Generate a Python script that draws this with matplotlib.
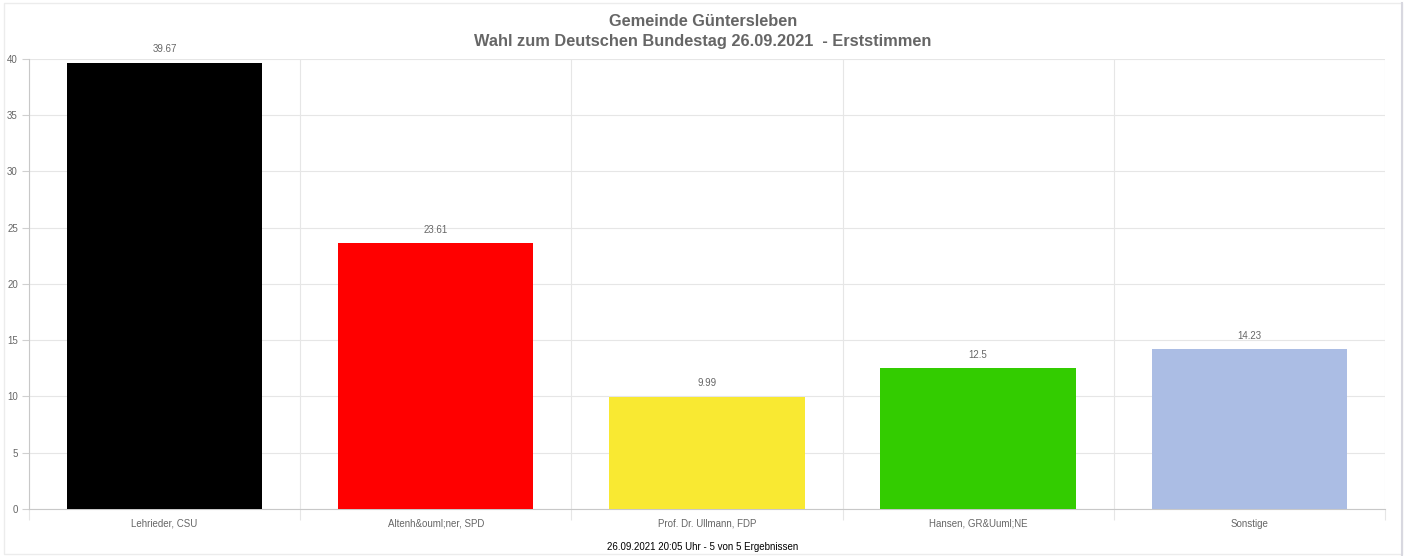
import numpy as np
import matplotlib.pyplot as plt
from matplotlib.patches import Rectangle

plt.rcParams['font.family'] = ['Liberation Sans', 'DejaVu Sans']

categories = ['Lehrieder, CSU', 'Altenh&ouml;ner, SPD', 'Prof. Dr. Ullmann, FDP',
              'Hansen, GR&Uuml;NE', 'Sonstige']
values = [39.67, 23.61, 9.99, 12.5, 14.23]
labels = ['39.67', '23.61', '9.99', '12.5', '14.23']
colors = ['#000000', '#ff0000', '#f9e932', '#33cc00', '#abbde4']

fig = plt.figure(figsize=(14.06, 5.56), dpi=100)
ax = fig.add_axes([0.0206, 0.0845, 0.9644, 0.8095])

x = np.arange(len(categories))
ax.bar(x, values, width=0.72, color=colors, zorder=3)

for xi, v, lab in zip(x, values, labels):
    ax.annotate(lab, (xi, v), xytext=(0, 6), textcoords='offset points',
                ha='center', va='bottom', fontsize=7, color='#666666')

ax.set_xlim(-0.5, len(categories) - 0.5)
ax.set_ylim(0, 40)
ax.set_yticks(np.arange(0, 41, 5))
ax.set_xticks(x)
ax.set_xticklabels(categories)
ax.set_xticks(np.arange(-0.5, len(categories)), minor=True)

ax.grid(axis='y', color='#e6e6e6', lw=0.8, zorder=0)
ax.grid(axis='x', which='minor', color='#e6e6e6', lw=0.8, zorder=0)
ax.tick_params(axis='x', which='major', length=0, labelsize=7, labelcolor='#666666', pad=7)
ax.tick_params(axis='x', which='minor', length=8, color='#e6e6e6', width=0.8)
ax.tick_params(axis='y', length=5, color='#d0d0d0', labelsize=7, labelcolor='#666666', pad=3)

for s in ['top', 'right']:
    ax.spines[s].set_visible(False)
ax.spines['left'].set_color('#c8c8c8')
ax.spines['bottom'].set_color('#c8c8c8')
ax.spines['left'].set_linewidth(0.8)
ax.spines['bottom'].set_linewidth(0.8)

fig.text(0.5, 0.962, 'Gemeinde Güntersleben', ha='center', va='center',
         fontsize=11.8, fontweight='bold', color='#666666')
fig.text(0.5, 0.926, 'Wahl zum Deutschen Bundestag 26.09.2021  - Erststimmen',
         ha='center', va='center', fontsize=11.8, fontweight='bold', color='#666666')
fig.text(0.5, 0.016, '26.09.2021 20:05 Uhr - 5 von 5 Ergebnissen', ha='center',
         va='center', fontsize=7, color='#000000')

# outer frame
fig.patches.append(Rectangle((0.003, 0.003), 0.994, 0.991, transform=fig.transFigure,
                             fill=False, edgecolor='#ececec', lw=1))
fig.add_artist(plt.Line2D([0.997, 0.997], [0.0, 0.994], transform=fig.transFigure,
                          color='#d8d8e0', lw=1.5))

plt.savefig('out.png', dpi=100)
